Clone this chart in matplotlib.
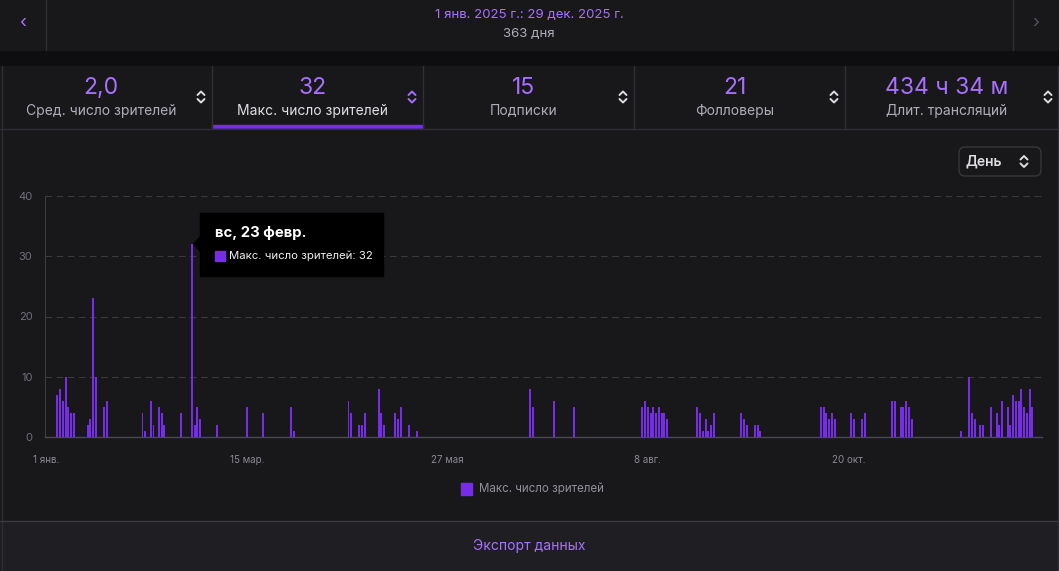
import matplotlib
matplotlib.use('Agg')
from matplotlib import pyplot as plt
from matplotlib.patches import Rectangle, FancyBboxPatch, Polygon

plt.rcParams['font.family'] = ['Inter', 'DejaVu Sans']

# Data: day index from 1 Jan 2025 and max viewers that day
stream_days = [4, 5, 6, 7, 8, 9, 10, 15, 16, 17, 18, 21, 22,
               35, 36, 38, 39, 41, 42, 43, 49, 53, 54, 55, 56,
               62, 73, 79, 89, 90,
               110, 111, 114, 115, 116, 121, 122, 123, 127, 128, 129, 132, 135,
               176, 177, 185, 192,
               217, 218, 219, 220, 221, 222, 223, 224, 225, 226,
               237, 238, 239, 240, 241, 242, 243,
               253, 254, 255, 258, 259, 260,
               282, 283, 284, 285, 286, 287,
               293, 294, 297, 298,
               308, 309, 311, 312, 313, 314, 315,
               333, 336, 337, 338, 340, 341,
               344, 346, 347, 348, 350, 351, 352, 353, 354, 355, 356, 357, 358, 359]
max_viewers = [7, 8, 6, 10, 5, 4, 4, 2, 3, 23, 10, 5, 6,
               4, 1, 6, 2, 5, 4, 2, 4, 32, 2, 5, 3,
               2, 5, 4, 5, 1,
               6, 4, 2, 2, 4, 8, 4, 2, 4, 3, 5, 2, 1,
               8, 5, 6, 5,
               5, 6, 5, 4, 5, 4, 5, 4, 4, 3,
               5, 4, 1, 3, 1, 2, 4,
               4, 3, 2, 2, 2, 1,
               5, 5, 4, 3, 4, 3,
               4, 3, 3, 4,
               6, 6, 5, 5, 6, 5, 3,
               1, 10, 4, 3, 2, 2,
               5, 4, 2, 6, 5, 2, 7, 6, 6, 8, 5, 4, 8, 5]
n_days = 363
tick_days = [0, 73, 146, 219, 292]
tick_labels = ['1 янв.', '15 мар.', '27 мая', '8 авг.', '20 окт.']
y_ticks = [0, 10, 20, 30, 40]

stat_values = ['2,0', '32', '15', '21', '434 ч 34 м']
stat_names = ['Сред. число зрителей', 'Макс. число зрителей', 'Подписки',
              'Фолловеры', 'Длит. трансляций']

W, H = 1059, 571
PURPLE = '#772ce8'
LIGHT_PURPLE = '#a970ff'
TEXT = '#dedee3'
MUTED = '#adadb8'
LINE = '#2f2f35'

fig = plt.figure(figsize=(W / 100, H / 100), dpi=100)
fig.patch.set_facecolor('#0e0e10')

# background layer in pixel coordinates
bg = fig.add_axes([0, 0, 1, 1], zorder=0)
bg.set_xlim(0, W)
bg.set_ylim(H, 0)
bg.axis('off')


def chevrons(ax, cx, cy, color):
    ax.plot([cx - 3.5, cx, cx + 3.5], [cy - 2, cy - 5.5, cy - 2], color=color, lw=1.4,
            solid_capstyle='round', solid_joinstyle='round')
    ax.plot([cx - 3.5, cx, cx + 3.5], [cy + 2, cy + 5.5, cy + 2], color=color, lw=1.4,
            solid_capstyle='round', solid_joinstyle='round')


# header
bg.add_patch(Rectangle((0, 0), W, 50, color='#18181b'))
bg.plot([46, 46], [0, 50], color=LINE, lw=1)
bg.plot([1013, 1013], [0, 50], color=LINE, lw=1)
bg.text(23, 24, '‹', color=LIGHT_PURPLE, fontsize=13, ha='center', va='center')
bg.text(1036, 24, '›', color='#53535f', fontsize=13, ha='center', va='center')
bg.text(529, 15, '1 янв. 2025 г.: 29 дек. 2025 г.', color=LIGHT_PURPLE,
        fontsize=9.5, ha='center', va='center')
bg.text(529, 34, '363 дня', color=MUTED, fontsize=9.5, ha='center', va='center')

# stats row
bg.add_patch(Rectangle((0, 66), W, 62, color='#18181b'))
edges = [0, 212, 423, 634, 845, W]
for i in range(5):
    x0, x1 = edges[i], edges[i + 1]
    if i > 0:
        bg.plot([x0, x0], [66, 128], color=LINE, lw=1)
    cx = (x0 + x1) / 2 - 5
    bg.text(cx, 88, stat_values[i], color=LIGHT_PURPLE, fontsize=16.5,
            ha='center', va='center')
    bg.text(cx, 110.5, stat_names[i], color=TEXT if i == 1 else MUTED, fontsize=10,
            ha='center', va='center')
    chevrons(bg, x1 - 11, 97, LIGHT_PURPLE if i == 1 else TEXT)
bg.add_patch(Rectangle((212, 125), 211, 3, color=PURPLE))
bg.plot([0, W], [128.5, 128.5], color=LINE, lw=1)

# chart panel
bg.add_patch(Rectangle((0, 129), W, 392, color='#18181b'))
bg.plot([1.5, 1.5], [66, 571], color=LINE, lw=1)
bg.plot([1057.5, 1057.5], [66, 571], color=LINE, lw=1)
bg.add_patch(FancyBboxPatch((959, 147), 82, 29, boxstyle='round,pad=0,rounding_size=6',
                            facecolor='#18181b', edgecolor='#35353b', lw=1))
bg.text(966, 161.5, 'День', color=TEXT, fontsize=10, ha='left', va='center',
        fontweight='semibold')
chevrons(bg, 1024, 161.5, TEXT)

# legend
bg.add_patch(Rectangle((461, 483), 11, 12, color=PURPLE))
bg.text(479, 489, 'Макс. число зрителей', color='#8f8f99', fontsize=8.3,
        ha='left', va='center')

# footer
bg.add_patch(Rectangle((0, 521), W, 50, color='#1f1f23'))
bg.plot([0, W], [521, 521], color='#3a3a3f', lw=1)
bg.text(529, 546, 'Экспорт данных', color=LIGHT_PURPLE, fontsize=10,
        ha='center', va='center')

# chart
ax = fig.add_axes([45 / W, 1 - 437 / H, (1042 - 45) / W, (437 - 196) / H], zorder=1)
ax.set_facecolor('none')
ax.bar(stream_days, max_viewers, width=0.72, color=PURPLE, zorder=3)
ax.set_xlim(-0.5, n_days - 0.5)
ax.set_ylim(0, 40)
ax.set_yticks(y_ticks)
ax.set_yticklabels([str(v) for v in y_ticks])
ax.set_xticks(tick_days)
ax.set_xticklabels(tick_labels)
ax.tick_params(axis='y', length=0, pad=9, labelsize=8, labelcolor='#6f6f7a')
ax.tick_params(axis='x', length=0, pad=13, labelsize=7, labelcolor='#8a8a94')
for v in y_ticks[1:]:
    ax.axhline(v, color='#3a3a3f', lw=0.8, ls=(0, (6, 4)), zorder=1)
for s in ['top', 'right']:
    ax.spines[s].set_visible(False)
ax.spines['left'].set_color('#3a3a3f')
ax.spines['bottom'].set_color('#4a4a52')
ax.spines['left'].set_linewidth(0.8)
ax.spines['bottom'].set_linewidth(1)

# tooltip
ov = fig.add_axes([0, 0, 1, 1], zorder=5)
ov.set_xlim(0, W)
ov.set_ylim(H, 0)
ov.axis('off')
ov.add_patch(Rectangle((200, 213), 183, 63, color='#000000'))
ov.add_patch(Polygon([[200, 237], [194, 244], [200, 251]], closed=True, color='#000000'))
ov.text(215, 233, 'вс, 23 февр.', color='white', fontsize=10.7, fontweight='bold',
        ha='left', va='center')
ov.add_patch(Rectangle((215, 251), 10, 10, color=PURPLE))
ov.text(229, 256, 'Макс. число зрителей: 32', color='#efeff1', fontsize=8.2,
        ha='left', va='center')

fig.savefig('out.png', dpi=100, facecolor=fig.get_facecolor())
